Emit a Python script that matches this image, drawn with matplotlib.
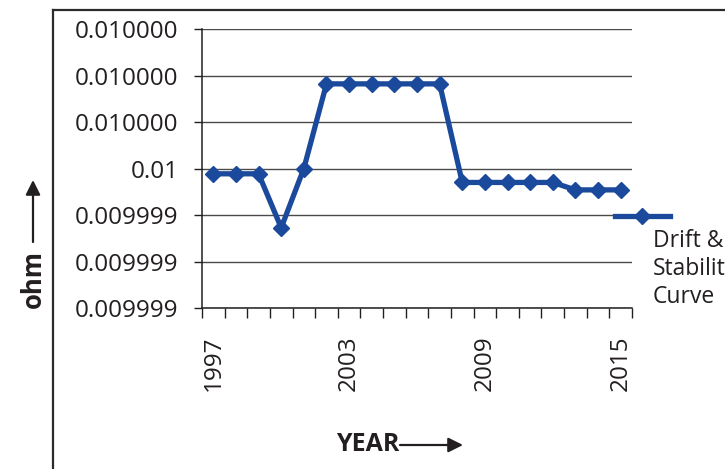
import matplotlib
matplotlib.use('Agg')
import matplotlib.pyplot as plt
from matplotlib.lines import Line2D
import numpy as np

# ---- data ----
years = [str(y) for y in range(1997, 2016)]
ohm_values = [0.0099999886, 0.0099999886, 0.0099999886, 0.0099998725, 0.0100000000,
              0.0100001820, 0.0100001820, 0.0100001820, 0.0100001820, 0.0100001820,
              0.0100001820, 0.0099999700, 0.0099999700, 0.0099999700, 0.0099999700,
              0.0099999700, 0.0099999540, 0.0099999540, 0.0099999540]
ytick_values = [0.0099997, 0.0099998, 0.0099999, 0.0100000, 0.0100001, 0.0100002, 0.0100003]
ytick_labels = ["0.009999", "0.009999", "0.009999", "0.01", "0.010000", "0.010000", "0.010000"]
xtick_years = ["1997", "2003", "2009", "2015"]
series_name = "Drift &\nStability\nCurve"

BLUE = '#1b4a9c'
TXT = '#231f20'
plt.rcParams['font.family'] = ['Open Sans', 'DejaVu Sans']

W, H = 725, 469
fig = plt.figure(figsize=(W / 100, H / 100), dpi=100)

def fx(px):
    return px / W

def fy(py):
    return 1 - py / H

ax = fig.add_axes([fx(202), fy(308), fx(632) - fx(202), fy(29) - fy(308)])
x = np.arange(len(years))
ax.plot(x, ohm_values, color=BLUE, lw=3.8, marker='D', ms=8.5, zorder=3, clip_on=False)

ax.set_xlim(-0.5, len(years) - 0.5)
ax.set_ylim(ytick_values[0], ytick_values[-1])
ax.set_yticks(ytick_values)
ax.set_yticklabels(ytick_labels)
ax.yaxis.grid(True, color='#4a4a4a', lw=1.0)
ax.set_axisbelow(True)

ax.set_xticks([years.index(y) for y in xtick_years])
ax.set_xticklabels(xtick_years, rotation=90)
ax.set_xticks(np.arange(-0.5, len(years), 1), minor=True)
ax.tick_params(axis='x', which='major', length=0, pad=20, labelsize=17.5, labelcolor=TXT)
ax.tick_params(axis='x', which='minor', length=7, width=1.0, color='#231f20', direction='out')
ax.tick_params(axis='y', which='major', length=6, width=1.0, pad=11, labelsize=17.5,
               labelcolor=TXT, color='#231f20')

for s in ['top', 'right']:
    ax.spines[s].set_visible(False)
for s in ['left', 'bottom']:
    ax.spines[s].set_color('#231f20')
    ax.spines[s].set_linewidth(1.1)
    ax.spines[s].set_zorder(2.5)

# outer frame
fig.add_artist(Line2D([fx(53), fx(53)], [0, fy(10)], color='#2b2b2b', lw=1.6))
fig.add_artist(Line2D([fx(53), 1], [fy(10), fy(10)], color='#2b2b2b', lw=1.6))

# y title with arrow
fig.text(fx(33), fy(279), "ohm", rotation=90, ha='center', va='center',
         fontsize=18.5, fontweight='bold', color=TXT)
ax.annotate('', xy=(fx(33), fy(180)), xytext=(fx(33), fy(242)),
            xycoords='figure fraction', textcoords='figure fraction',
            arrowprops=dict(arrowstyle='-|>', lw=1.6, color=TXT, mutation_scale=22,
                            shrinkA=0, shrinkB=0))

# x title with arrow
fig.text(fx(336), fy(444), "YEAR", ha='left', va='center',
         fontsize=18, fontweight='bold', color=TXT)
ax.annotate('', xy=(fx(463), fy(445)), xytext=(fx(400), fy(445)),
            xycoords='figure fraction', textcoords='figure fraction',
            arrowprops=dict(arrowstyle='-|>', lw=1.6, color=TXT, mutation_scale=22,
                            shrinkA=0, shrinkB=0))

# legend (manual)
fig.add_artist(Line2D([fx(615), fx(670)], [fy(216), fy(216)], color=BLUE, lw=3.8))
fig.add_artist(Line2D([fx(642)], [fy(216)], color=BLUE, marker='D', ms=8.5, lw=0))
fig.text(fx(653), fy(229), series_name, ha='left', va='top', fontsize=16.5,
         color=TXT, linespacing=1.22)

fig.savefig('out.png', dpi=100)
